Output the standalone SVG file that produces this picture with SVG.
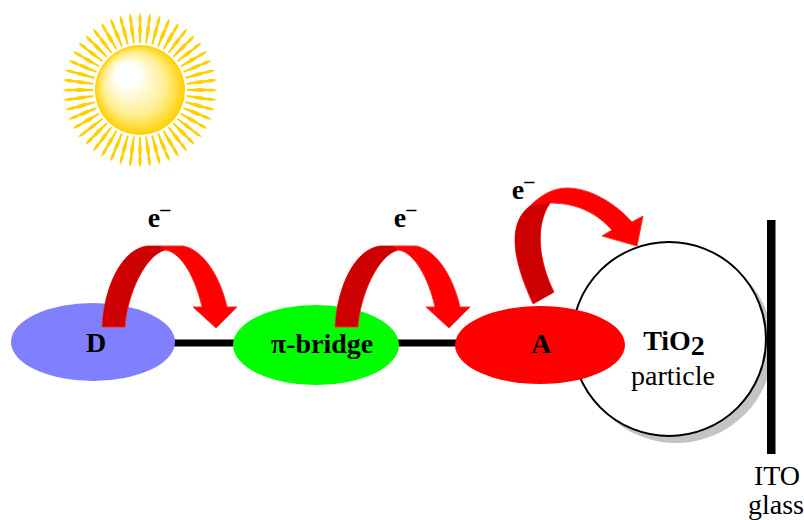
<svg xmlns="http://www.w3.org/2000/svg" xmlns:xlink="http://www.w3.org/1999/xlink" width="804" height="520" viewBox="0 0 804 520">
<style>
text{font-family:"Liberation Serif","Times New Roman",serif;fill:#000;font-size:28px;text-anchor:middle}
.b{font-weight:bold}
.ray{fill:#ffd000}
.red{fill:#ff0000;stroke:#ff3030;stroke-width:1}
.dark{fill:#cc0000}
.link{stroke:#000;stroke-width:7;fill:none}
</style>
<defs>
<radialGradient id="sunfill" cx="140" cy="90" r="45" fx="122" fy="70" gradientUnits="userSpaceOnUse">
<stop offset="0" stop-color="#ffffff"/>
<stop offset="0.25" stop-color="#ffffff"/>
<stop offset="0.7" stop-color="#ffee90"/>
<stop offset="1" stop-color="#ffd000"/>
</radialGradient>
<path id="r" class="ray" d="M0,-77.500 Q2.600,-72 1,-66.500 Q2.800,-60 1.200,-54 L0.900,-47 L-0.900,-47 L-1.200,-54 Q-2.800,-60 -1,-66.500 Q-2.600,-72 0,-77.500Z"/>
<g id="arc">
<path class="red" d="M102,327 C104,290 120,250 147,246 L183,246 C205,250 221,280 227,307 L237,307 L216,328 L193,307 L202,307 C196,280 182,252 165,250 C145,255 127,295 125,327Z"/>
<path class="dark" d="M102.500,326.500 C104,290 120,250 147,246 L160,246 L165,250 C145,255 127,295 124.500,326.500Z"/>
</g>
</defs>
<g id="sun">
<g transform="translate(140 90)">
<use xlink:href="#r" transform="rotate(0)"/><use xlink:href="#r" transform="rotate(7.5)"/><use xlink:href="#r" transform="rotate(15)"/><use xlink:href="#r" transform="rotate(22.500)"/><use xlink:href="#r" transform="rotate(30)"/><use xlink:href="#r" transform="rotate(37.500)"/><use xlink:href="#r" transform="rotate(45)"/><use xlink:href="#r" transform="rotate(52.500)"/><use xlink:href="#r" transform="rotate(60)"/><use xlink:href="#r" transform="rotate(67.500)"/><use xlink:href="#r" transform="rotate(75)"/><use xlink:href="#r" transform="rotate(82.500)"/>
<use xlink:href="#r" transform="rotate(90)"/><use xlink:href="#r" transform="rotate(97.500)"/><use xlink:href="#r" transform="rotate(105)"/><use xlink:href="#r" transform="rotate(112.500)"/><use xlink:href="#r" transform="rotate(120)"/><use xlink:href="#r" transform="rotate(127.500)"/><use xlink:href="#r" transform="rotate(135)"/><use xlink:href="#r" transform="rotate(142.500)"/><use xlink:href="#r" transform="rotate(150)"/><use xlink:href="#r" transform="rotate(157.500)"/><use xlink:href="#r" transform="rotate(165)"/><use xlink:href="#r" transform="rotate(172.500)"/>
<use xlink:href="#r" transform="rotate(180)"/><use xlink:href="#r" transform="rotate(187.500)"/><use xlink:href="#r" transform="rotate(195)"/><use xlink:href="#r" transform="rotate(202.500)"/><use xlink:href="#r" transform="rotate(210)"/><use xlink:href="#r" transform="rotate(217.500)"/><use xlink:href="#r" transform="rotate(225)"/><use xlink:href="#r" transform="rotate(232.500)"/><use xlink:href="#r" transform="rotate(240)"/><use xlink:href="#r" transform="rotate(247.500)"/><use xlink:href="#r" transform="rotate(255)"/><use xlink:href="#r" transform="rotate(262.500)"/>
<use xlink:href="#r" transform="rotate(270)"/><use xlink:href="#r" transform="rotate(277.500)"/><use xlink:href="#r" transform="rotate(285)"/><use xlink:href="#r" transform="rotate(292.500)"/><use xlink:href="#r" transform="rotate(300)"/><use xlink:href="#r" transform="rotate(307.500)"/><use xlink:href="#r" transform="rotate(315)"/><use xlink:href="#r" transform="rotate(322.500)"/><use xlink:href="#r" transform="rotate(330)"/><use xlink:href="#r" transform="rotate(337.500)"/><use xlink:href="#r" transform="rotate(345)"/><use xlink:href="#r" transform="rotate(352.500)"/>
</g>
<circle cx="140" cy="90" r="45" fill="url(#sunfill)"/>
</g>
<g id="tio2">
<circle cx="676" cy="346" r="97" fill="#c4c4c4"/>
<circle cx="669" cy="339" r="97" fill="#fff" stroke="#000" stroke-width="2"/>
<text class="b" x="674" y="350" font-size="26">TiO<tspan dy="5">2</tspan></text>
<text x="673" y="385">particle</text>
</g>
<g id="ito">
<rect x="767" y="220" width="8.500" height="234"/>
<text x="777" y="485">ITO</text>
<text x="776" y="514" font-size="27">glass</text>
</g>
<g id="connectors">
<line class="link" x1="173" y1="343" x2="235" y2="343"/>
<line class="link" x1="397" y1="343" x2="457" y2="343"/>
</g>
<g id="d">
<ellipse cx="93" cy="342" rx="82" ry="39" fill="#8080ff"/>
<text class="b" x="96" y="352">D</text>
</g>
<g id="bridge">
<ellipse cx="316" cy="345" rx="83" ry="40" fill="#00ff00"/>
<text class="b" x="322" y="353">π-bridge</text>
</g>
<g id="a">
<ellipse cx="540" cy="345" rx="85" ry="39" fill="#ff0000"/>
<text class="b" x="541" y="353">A</text>
</g>
<g id="arrows">
<use xlink:href="#arc"/>
<use xlink:href="#arc" transform="translate(233 0)"/>
<path class="red" d="M533,304 C515,265 505,225 530,206 C540,196 552,188 567,188 C590,188 615,203 632,222 L643,216 L637,246 L602,236 L612,230 C598,215 580,203 550,203 C535,225 538,260 554,292Z"/>
<path class="dark" d="M533.500,303.500 C515,265 505,225 530,206 L550,203 C535,225 538,260 553.500,292.500Z"/>
</g>
<g id="electrons">
<text class="b" x="159" y="227">e<tspan font-size="20" dy="-11">–</tspan></text>
<text class="b" x="405" y="227">e<tspan font-size="20" dy="-11">–</tspan></text>
<text class="b" x="523" y="199">e<tspan font-size="20" dy="-11">–</tspan></text>
</g>
</svg>
